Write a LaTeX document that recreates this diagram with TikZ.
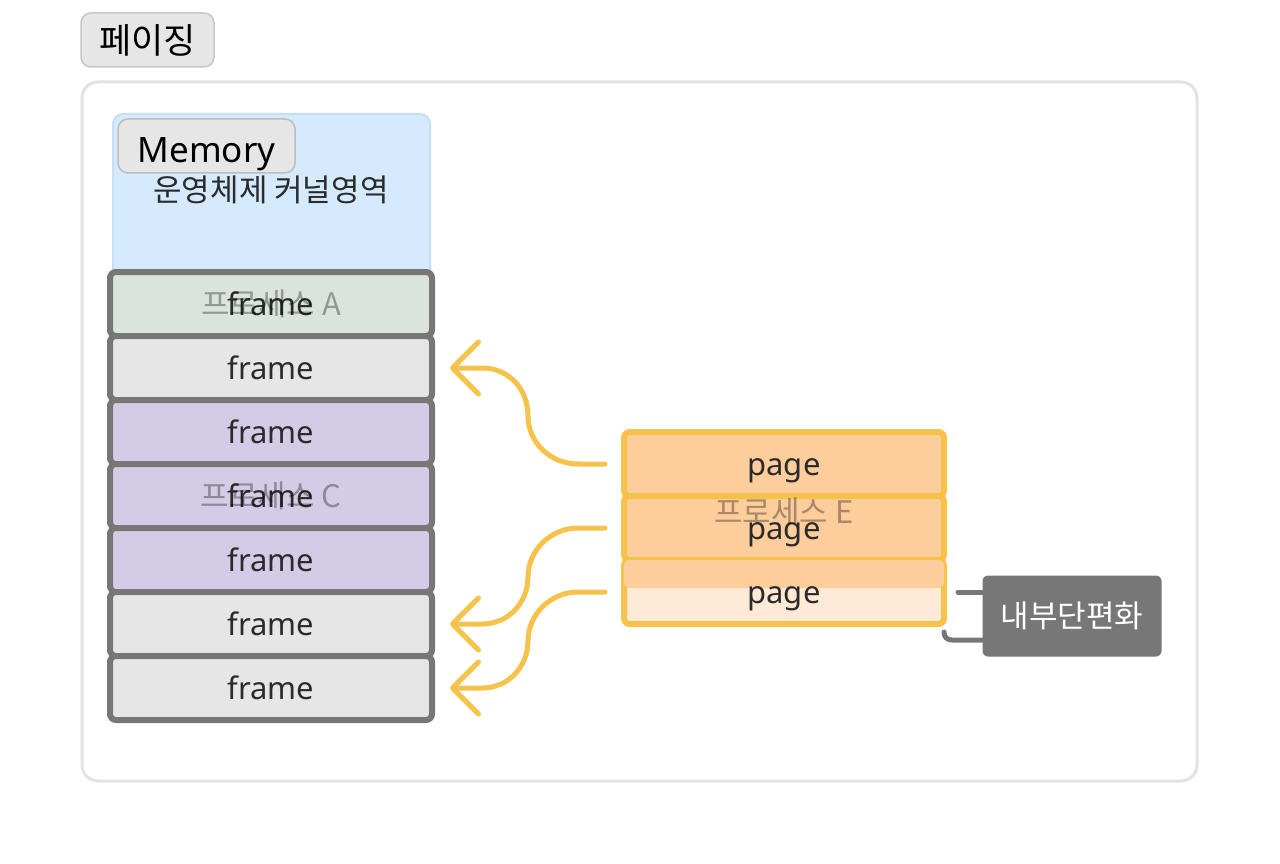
\documentclass[tikz,border=0pt]{standalone}
\usepackage{fontspec}
\setmainfont{Noto Sans}
\newfontfamily\kr{Noto Sans CJK KR}
\usetikzlibrary{arrows.meta}
\definecolor{framegray}{HTML}{777777}
\definecolor{framefill}{HTML}{E6E6E6}
\definecolor{framegreen}{HTML}{DBE4DC}
\definecolor{framepurple}{HTML}{D4CCE6}
\definecolor{pageedge}{HTML}{F5C24C}
\definecolor{pagefill}{HTML}{FECD9C}
\definecolor{pagelight}{HTML}{FFEAD6}
\definecolor{kernfill}{HTML}{D5EBFD}
\definecolor{kernedge}{HTML}{C6DFF6}
\definecolor{textdark}{HTML}{2B2B2B}
\newcommand{\fsize}[1]{\fontsize{#1}{#1}\selectfont}
\begin{document}
\begin{tikzpicture}[x=1pt, y=-1pt,
    framebox/.style={draw=framegray, line width=6pt, rounded corners=6pt,
      minimum width=322pt, minimum height=64pt, inner sep=0pt,
      text height=23pt, text depth=0pt, text=textdark, font=\fsize{31}},
    pagebox/.style={draw=pageedge, fill=pagefill, line width=6pt, rounded corners=6pt,
      minimum width=320pt, minimum height=64pt, inner sep=0pt,
      text height=23pt, text depth=0pt, text=textdark, font=\fsize{31}},
    flow/.style={draw=pageedge, line width=5pt, line cap=round, line join=round,
      -{Straight Barb[length=26pt, width=52pt, round]}},
    ghost/.style={text=black, text opacity=0.33, font=\kr\fsize{31}},
    badge/.style={draw=#1, fill=framefill, line width=1.5pt, rounded corners=10pt, inner sep=0pt},
    brk/.style={draw=framegray, line width=5pt, line cap=round}]

  \useasboundingbox (0,0) rectangle (1280,864);

  % title and outer panel
  \node [badge={black!22}, minimum width=133pt, minimum height=54pt, font=\kr\fsize{35}] (title) at (147.5,40) {페이징};
  \draw [draw=black!11, fill=white, line width=3pt, rounded corners=16pt] (82,82) rectangle (1197,781);

  % memory
  \draw [draw=kernedge, fill=kernfill, line width=2pt, rounded corners=10pt] (113,114) rectangle (430,290);
  \node [badge={black!26}, minimum width=177pt, minimum height=54pt, text height=33pt, text depth=0pt,
    font=\fsize{35}] (mem) at (206.5,146) {Memory};
  \node [text=textdark, font=\kr\fsize{31}] (kernel) at (271,190) {운영체제 커널영역};

  \node [framebox, fill=framegreen] (f1) at (271,304) {frame};
  \node [framebox, fill=framefill] (f2) at (271,368) {frame};
  \node [framebox, fill=framepurple] (f3) at (271,432) {frame};
  \node [framebox, fill=framepurple] (f4) at (271,496) {frame};
  \node [framebox, fill=framepurple] (f5) at (271,560) {frame};
  \node [framebox, fill=framefill] (f6) at (271,624) {frame};
  \node [framebox, fill=framefill] (f7) at (271,688) {frame};
  \node [ghost] (procA) at (271,304) {프로세스 A};
  \node [ghost] (procC) at (271,496) {프로세스 C};

  % pages of process E
  \node [pagebox] (p1) at (784,464) {page};
  \node [pagebox] (p2) at (784,528) {page};
  \node [pagebox, fill=pagelight] (p3) at (784,592) {};
  \fill [pagefill, rounded corners=6pt] ([shift={(3,3)}]p3.north west) rectangle ([shift={(-3,31)}]p3.north east);
  \node [text=textdark, text height=23pt, text depth=0pt, font=\fsize{31}] (p3t) at (p3) {page};
  \node [ghost] (procE) at (784,512) {프로세스 E};

  % page -> frame
  \draw [flow] ([xshift=-16]p1.west) -- (578,464)
    .. controls (551,464) and (528,443) .. (528,416)
    .. controls (528,389) and (509,368) .. (482,368) -- ([xshift=15]f2.east);
  \draw [flow] ([xshift=-16]p2.west) -- (578,528)
    .. controls (551,528) and (528,550) .. (528,577)
    .. controls (528,602) and (509,624) .. (482,624) -- ([xshift=15]f6.east);
  \draw [flow] ([xshift=-16]p3.west) -- (578,592)
    .. controls (551,592) and (528,614) .. (528,641)
    .. controls (528,666) and (509,688) .. (482,688) -- ([xshift=15]f7.east);

  % internal fragmentation
  \node [fill=framegray, rounded corners=5pt, minimum width=179pt, minimum height=81pt,
    text=white, font=\kr\fsize{31}] (frag) at (1072,616) {내부단편화};
  \coordinate (fragtop) at (958,592);
  \coordinate (fragbot) at (944,632);
  \draw [brk] (fragtop) -- (fragtop -| frag.west);
  \draw [brk] (fragbot) .. controls (944,637) and (947,640) .. (952,640) -- (frag.west |- 0,640);
\end{tikzpicture}
\end{document}
